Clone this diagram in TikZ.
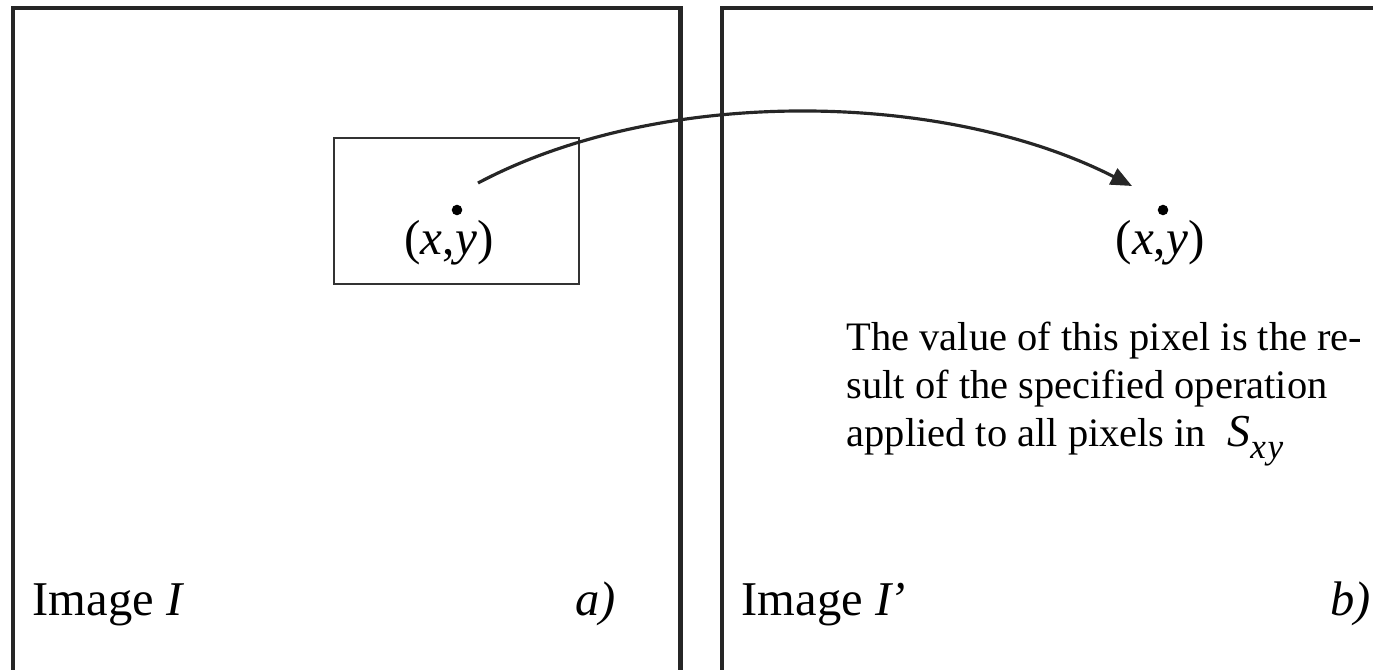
\documentclass[tikz,border=0pt]{standalone}
\usepackage{fontspec}
\setmainfont{Liberation Serif}
\usetikzlibrary{positioning, arrows.meta}
\tikzset{
  frame/.style={draw=black!85, line width=1.2pt, anchor=north west,
    minimum width=6.67cm, minimum height=7cm, inner sep=0pt, outer sep=0pt},
  window/.style={draw=black!80, line width=0.7pt, anchor=north west,
    minimum width=2.45cm, minimum height=1.46cm, inner sep=0pt, outer sep=0pt},
  pix/.style={circle, fill=black, inner sep=0pt, minimum size=3pt},
  coord/.style={font=\fontsize{14}{16}\selectfont, inner sep=0pt},
  caption/.style={font=\fontsize{13.8}{16}\selectfont, anchor=base west, inner sep=0pt},
  remark/.style={font=\fontsize{11.5}{13.6}\selectfont, align=left,
    anchor=base west, inner sep=0pt},
  link/.style={draw=black!85, line width=0.9pt, -{Triangle[length=6pt, width=5pt]}},
}

\begin{document}
\begin{tikzpicture}[x=0.01cm, y=-0.01cm]
  \useasboundingbox (0,0) rectangle (1373,670);
  \clip (0,0) rectangle (1373,670);

  % the two images
  \node[frame] (imgI)  at (13,8)  {};
  \node[frame] (imgJ)  at (722,8) {};

  % neighbourhood in the input image
  \node[window] (nbh) at (334,138) {};
  \node[pix]  (pA) at (457,210) {};
  \node[coord] (xyA) at (449,243) {(\textit{x},\textit{y})};

  % output pixel
  \node[pix]  (pB) at (1163,210) {};
  \node[coord] (xyB) at (1160,243) {(\textit{x},\textit{y})};

  % base = last line here
  \node[remark] (txt) at (846,446)
    {The value of this pixel is the re-\\
     sult of the specified operation\\
     applied to all pixels in\; {\fontsize{13}{13}\selectfont\textit{S}}\raisebox{-0.7ex}{\fontsize{10}{10}\selectfont\textit{x\kern0.5pt y}}};

  % captions
  \node[caption] (capA) at (32,615)   {Image \textit{I}};
  \node[caption] (labA) at (575,615)  {\textit{a)}};
  \node[caption] (capB) at (741,615)  {Image \textit{I\kern-0.5pt'}};
  \node[caption] (labB) at (1330,615) {\textit{b)}};

  % mapping
  \coordinate (src) at (478,183);
  \coordinate (dst) at (1132,186);
  \draw[link] (src) .. controls (663,85) and (946,91) .. (dst);

\end{tikzpicture}
\end{document}
